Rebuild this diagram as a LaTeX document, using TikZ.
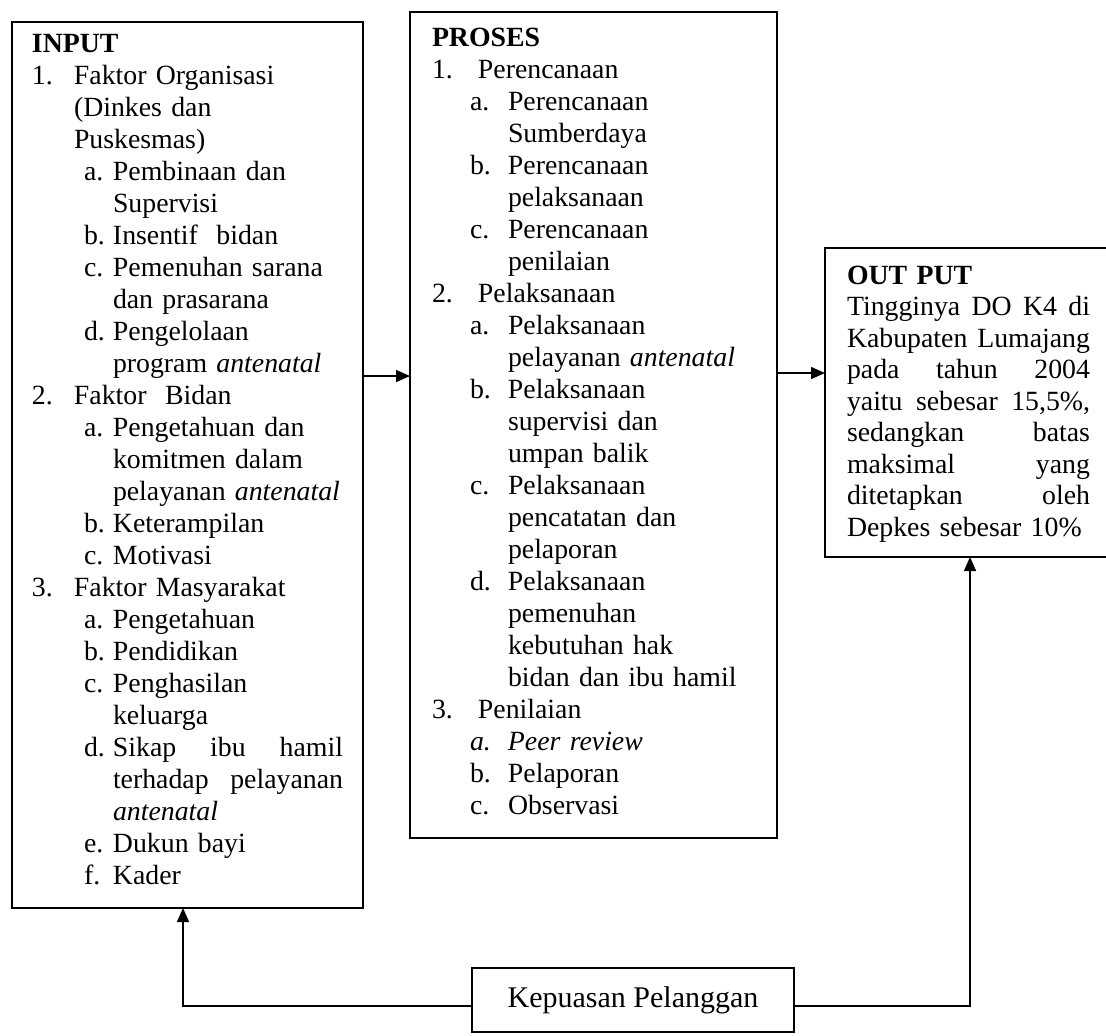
\documentclass[tikz,border=0pt]{standalone}
\usepackage{fontspec}
\setmainfont{Liberation Serif}
\usetikzlibrary{arrows.meta}
\newlength\LenA \newlength\LenB \newlength\LenC
\newcommand\Lnum[2]{\makebox[\LenA][l]{#1}#2}
\newcommand\Lcont[1]{\hspace*{\LenA}#1}
\newcommand\Lsub[2]{\hspace*{\LenB}\makebox[\dimexpr\LenC-\LenB\relax][l]{#1}#2}
\newcommand\Lsubc[1]{\hspace*{\LenC}#1}
\newcommand\Jst[2]{\makebox[#1][l]{#2}}
\begin{document}
\begin{tikzpicture}[x=0.5pt,y=-0.5pt,
 box/.style={draw,line width=1pt,inner sep=0pt,outer sep=0pt,anchor=north west},
 txt/.style={anchor=north west,inner sep=0pt,outer sep=0pt,align=left,font=\fontsize{13.9}{16}\selectfont},
 conn/.style={line width=0.7pt,-{Triangle[length=7pt,width=6pt]}}]
\useasboundingbox (0,0) rectangle (1106,1035);
% boxes
\node[box,minimum width=175.5pt,minimum height=443pt] (input) at (12,22) {};
\node[box,minimum width=183.5pt,minimum height=413pt] (proses) at (410,12) {};
\node[box,minimum width=143.5pt,minimum height=154.5pt] (output) at (825,248) {};
\node[box,minimum width=161pt,minimum height=32pt,font=\fontsize{15}{18}\selectfont] (kepuasan) at (472,968) {Kepuasan Pelanggan};
% texts
\node[txt,text width=165pt] (inputtext) at (32,34) {\setlength\LenA{21pt}\setlength\LenB{26pt}\setlength\LenC{40.5pt}%
\textbf{INPUT}\\
\Lnum{1.}{Faktor Organisasi}\\
\Lcont{(Dinkes dan}\\
\Lcont{Puskesmas)}\\
\Lsub{a.}{Pembinaan dan}\\
\Lsubc{Supervisi}\\
\Lsub{b.}{Insentif\ \ bidan}\\
\Lsub{c.}{Pemenuhan sarana}\\
\Lsubc{dan prasarana}\\
\Lsub{d.}{Pengelolaan}\\
\Lsubc{program \textit{antenatal}}\\
\Lnum{2.}{Faktor\ \ Bidan}\\
\Lsub{a.}{Pengetahuan dan}\\
\Lsubc{komitmen dalam}\\
\Lsubc{pelayanan \textit{antenatal}}\\
\Lsub{b.}{Keterampilan}\\
\Lsub{c.}{Motivasi}\\
\Lnum{3.}{Faktor Masyarakat}\\
\Lsub{a.}{Pengetahuan}\\
\Lsub{b.}{Pendidikan}\\
\Lsub{c.}{Penghasilan}\\
\Lsubc{keluarga}\\
\Lsub{d.}{\Jst{115pt}{Sikap\hfill ibu\hfill hamil}}\\
\Lsubc{\Jst{115pt}{terhadap\hfill pelayanan}}\\
\Lsubc{\textit{antenatal}}\\
\Lsub{e.}{Dukun bayi}\\
\Lsub{f.}{Kader}};
\node[txt,text width=172pt] (prosestext) at (432,28) {\setlength\LenA{23pt}\setlength\LenB{19pt}\setlength\LenC{38pt}%
\textbf{PROSES}\\
\Lnum{1.}{Perencanaan}\\
\Lsub{a.}{Perencanaan}\\
\Lsubc{Sumberdaya}\\
\Lsub{b.}{Perencanaan}\\
\Lsubc{pelaksanaan}\\
\Lsub{c.}{Perencanaan}\\
\Lsubc{penilaian}\\
\Lnum{2.}{Pelaksanaan}\\
\Lsub{a.}{Pelaksanaan}\\
\Lsubc{pelayanan \textit{antenatal}}\\
\Lsub{b.}{Pelaksanaan}\\
\Lsubc{supervisi dan}\\
\Lsubc{umpan balik}\\
\Lsub{c.}{Pelaksanaan}\\
\Lsubc{pencatatan dan}\\
\Lsubc{pelaporan}\\
\Lsub{d.}{Pelaksanaan}\\
\Lsubc{pemenuhan}\\
\Lsubc{kebutuhan hak}\\
\Lsubc{bidan dan ibu hamil}\\
\Lnum{3.}{Penilaian}\\
\Lsub{\textit{a.}}{\textit{Peer review}}\\
\Lsub{b.}{Pelaporan}\\
\Lsub{c.}{Observasi}};
\node[txt,text width=125pt,font=\fontsize{13.9}{15.75}\selectfont] (outputtext) at (847,266) {%
\textbf{OUT PUT}\\
\Jst{121.5pt}{Tingginya\hfill DO\hfill K4\hfill di}\\
\Jst{121.5pt}{Kabupaten\hfill Lumajang}\\
\Jst{121.5pt}{pada\hfill tahun\hfill 2004}\\
\Jst{121.5pt}{yaitu\hfill sebesar\hfill 15,5\%,}\\
\Jst{121.5pt}{sedangkan\hfill batas}\\
\Jst{121.5pt}{maksimal\hfill yang}\\
\Jst{121.5pt}{ditetapkan\hfill oleh}\\
Depkes sebesar 10\%};
% connectors
\coordinate (ya) at (0,376);
\coordinate (yb) at (0,373);
\coordinate (fl) at (183,1006);
\coordinate (fr) at (970,1006);
\draw[conn] (input.east |- ya) -- (proses.west |- ya);
\draw[conn] (proses.east |- yb) -- (output.west |- yb);
\draw[conn] (kepuasan.west |- fl) -| (input.south -| fl);
\draw[conn] (kepuasan.east |- fr) -| (output.south -| fr);
\end{tikzpicture}
\end{document}
